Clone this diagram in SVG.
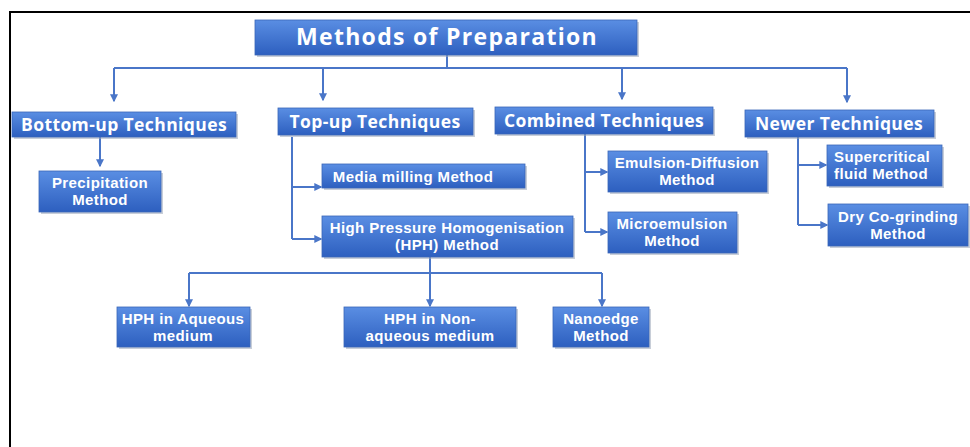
<svg xmlns="http://www.w3.org/2000/svg" width="970" height="447" viewBox="0 0 970 447">
<defs>
<linearGradient id="g" x1="0" y1="0" x2="0" y2="1">
<stop offset="0" stop-color="#5a8ee3"/>
<stop offset="1" stop-color="#2d5fbf"/>
</linearGradient>
<marker id="a" viewBox="0 0 6 6" refX="5" refY="3" markerWidth="4" markerHeight="4" orient="auto" markerUnits="strokeWidth">
<path d="M0,0 L6,3 L0,6 z" fill="#4a76c8"/>
</marker>
</defs>
<style>
.b{fill:url(#g);stroke:#3a66b8;stroke-width:0.8}
.s{fill:#9aa6b8;opacity:0.55}
.t{fill:#fff;font-family:"Open Sans","DejaVu Sans",sans-serif;font-weight:bold;text-anchor:middle}
.t1{font-size:23px;letter-spacing:1.3px}
.t2{font-size:17.5px;letter-spacing:0.4px}
.t3{font-family:"Liberation Sans",Arial,sans-serif;font-size:15px;letter-spacing:0.4px}
.c{fill:none;stroke:#4a76c8;stroke-width:2}
.ar{marker-end:url(#a)}
</style>
<rect width="970" height="447" fill="#fff"/>
<path d="M10,447 V12 H970" fill="none" stroke="#000" stroke-width="2"/>

<g id="connectors">
<path class="c" d="M447,55 V68"/>
<path class="c" d="M114,68 H847"/>
<path class="c ar" d="M114,68 V101"/>
<path class="c ar" d="M323,68 V100"/>
<path class="c ar" d="M622,68 V99"/>
<path class="c ar" d="M847,68 V102"/>
<path class="c ar" d="M100,137 V166"/>
<path class="c" d="M292,137 V239"/>
<path class="c ar" d="M292,187 H321"/>
<path class="c ar" d="M292,239 H321"/>
<path class="c" d="M585,134 V232"/>
<path class="c ar" d="M585,172 H607"/>
<path class="c ar" d="M585,232 H607"/>
<path class="c" d="M798,137 V225"/>
<path class="c ar" d="M798,165 H826"/>
<path class="c ar" d="M798,225 H827"/>
<path class="c" d="M430,257 V273"/>
<path class="c" d="M189,273 H602"/>
<path class="c ar" d="M189,273 V306"/>
<path class="c ar" d="M430,273 V306"/>
<path class="c ar" d="M602,273 V306"/>
</g>

<g id="title">
<rect class="s" x="257" y="22" width="382" height="35"/>
<rect class="b" x="255" y="20" width="382" height="35"/>
<text class="t t1" x="447" y="44.5">Methods of Preparation</text>
</g>
<g id="bottom-up">
<rect class="s" x="14" y="114" width="224" height="25"/>
<rect class="b" x="12" y="112" width="224" height="25"/>
<text class="t t2" x="124" y="130.5">Bottom-up Techniques</text>
</g>
<g id="top-up">
<rect class="s" x="280" y="110" width="195" height="27"/>
<rect class="b" x="278" y="108" width="195" height="27"/>
<text class="t t2" x="375" y="128">Top-up Techniques</text>
</g>
<g id="combined">
<rect class="s" x="497" y="109" width="218" height="27"/>
<rect class="b" x="495" y="107" width="218" height="27"/>
<text class="t t2" x="604" y="127">Combined Techniques</text>
</g>
<g id="newer">
<rect class="s" x="747" y="112" width="189" height="27"/>
<rect class="b" x="745" y="110" width="189" height="27"/>
<text class="t t2" x="839" y="130">Newer Techniques</text>
</g>
<g id="precipitation">
<rect class="s" x="41" y="173" width="122" height="41"/>
<rect class="b" x="39" y="171" width="122" height="41"/>
<text class="t t3" x="100" y="188">Precipitation<tspan x="100" dy="17">Method</tspan></text>
</g>
<g id="media-milling">
<rect class="s" x="324" y="166" width="203" height="24"/>
<rect class="b" x="322" y="164" width="203" height="24"/>
<text class="t t3" x="413" y="181.5">Media milling Method</text>
</g>
<g id="hph">
<rect class="s" x="324" y="218" width="251" height="41"/>
<rect class="b" x="322" y="216" width="251" height="41"/>
<text class="t t3" x="447" y="232.5">High Pressure Homogenisation<tspan x="447" dy="17">(HPH)  Method</tspan></text>
</g>
<g id="emulsion-diffusion">
<rect class="s" x="610" y="153" width="159" height="41"/>
<rect class="b" x="608" y="151" width="159" height="41"/>
<text class="t t3" x="687" y="167.5">Emulsion-Diffusion<tspan x="687" dy="17">Method</tspan></text>
</g>
<g id="microemulsion">
<rect class="s" x="610" y="214" width="129" height="41"/>
<rect class="b" x="608" y="212" width="129" height="41"/>
<text class="t t3" x="672" y="228.5">Microemulsion<tspan x="672" dy="17">Method</tspan></text>
</g>
<g id="supercritical">
<rect class="s" x="829" y="147" width="115" height="41"/>
<rect class="b" x="827" y="145" width="115" height="41"/>
<text class="t t3" x="834" y="161.5" style="text-anchor:start">Supercritical<tspan x="834" dy="17">fluid Method</tspan></text>
</g>
<g id="dry-co-grinding">
<rect class="s" x="830" y="206" width="140" height="42"/>
<rect class="b" x="828" y="204" width="140" height="42"/>
<text class="t t3" x="898" y="221.5">Dry Co-grinding<tspan x="898" dy="17">Method</tspan></text>
</g>
<g id="hph-aqueous">
<rect class="s" x="119" y="309" width="133" height="40"/>
<rect class="b" x="117" y="307" width="133" height="40"/>
<text class="t t3" x="183" y="323.5">HPH in Aqueous<tspan x="183" dy="17">medium</tspan></text>
</g>
<g id="hph-nonaqueous">
<rect class="s" x="346" y="309" width="172" height="40"/>
<rect class="b" x="344" y="307" width="172" height="40"/>
<text class="t t3" x="430" y="323.5">HPH in Non-<tspan x="430" dy="17">aqueous medium</tspan></text>
</g>
<g id="nanoedge">
<rect class="s" x="555" y="309" width="96" height="40"/>
<rect class="b" x="553" y="307" width="96" height="40"/>
<text class="t t3" x="601" y="323.5">Nanoedge<tspan x="601" dy="17">Method</tspan></text>
</g>
</svg>
